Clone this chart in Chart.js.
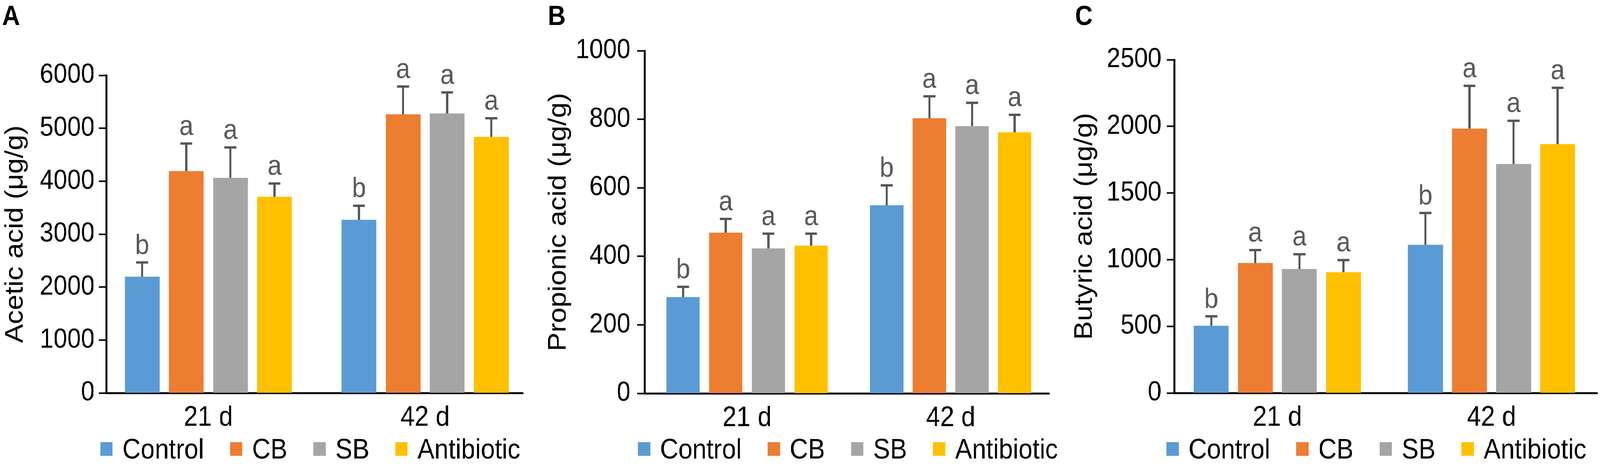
<!DOCTYPE html>
<html>
<head>
<meta charset="utf-8">
<script src="https://cdn.jsdelivr.net/npm/chart.js@4.4.1/dist/chart.umd.min.js"></script>
<style>
  html, body { margin: 0; padding: 0; background: #fff; overflow: hidden; }
  #figure { width: 4550px; height: 1189px; position: relative; transform-origin: 0 0; }
  canvas { position: absolute; top: 0; }
</style>
</head>
<body>
<div id="figure">
  <canvas id="chartA" width="1517" height="1189" style="left:0px"></canvas>
  <canvas id="chartB" width="1516" height="1189" style="left:1517px"></canvas>
  <canvas id="chartC" width="1517" height="1189" style="left:3033px"></canvas>
</div>
<script>
// ========== DATA ==========
const categories = ['21 d', '42 d'];
const groups = ['Control', 'CB', 'SB', 'Antibiotic'];

// means per group, [21 d, 42 d]
const aceticMeans = [[2196, 3270], [4191, 5263], [4063, 5280], [3705, 4838]];
const aceticErrors = [[269, 267], [520, 526], [575, 397], [252, 352]];

const propionicMeans = [[281, 549], [469, 803], [423, 780], [431, 762]];
const propionicErrors = [[30, 58], [40, 64], [43, 68], [35, 51]];

const butyricMeans = [[504, 1112], [975, 1983], [930, 1718], [906, 1867]];
const butyricErrors = [[71, 238], [97, 321], [111, 324], [91, 422]];

// significance letters per group, [21 d, 42 d]
const sigLetters = [['b', 'b'], ['a', 'a'], ['a', 'a'], ['a', 'a']];

const aceticTicks = { max: 6000, step: 1000 };
const propionicTicks = { max: 1000, step: 200 };
const butyricTicks = { max: 2500, step: 500 };

// ========== STYLE / LAYOUT ==========
const groupColors = ['#5B9BD5', '#ED7D31', '#A5A5A5', '#FFC000'];
const FONT = "'Liberation Sans', Arial, sans-serif";
const H = 1189;

// stretch the 4550x1189 figure over the whole viewport
const sx = window.innerWidth / 4550;
const sy = window.innerHeight / 1189;
document.getElementById('figure').style.transform = 'scale(' + sx + ',' + sy + ')';

Chart.defaults.font.family = FONT;
Chart.defaults.color = '#000';

// error bars + letters above them
const errorBarPlugin = {
    id: 'errorBars',
    afterDatasetsDraw(chart) {
        const ctx = chart.ctx;
        const yScale = chart.scales.y;
        ctx.save();
        chart.data.datasets.forEach((ds, i) => {
            const meta = chart.getDatasetMeta(i);
            meta.data.forEach((bar, j) => {
                const top = yScale.getPixelForValue(ds.data[j].y + ds.errors[j]);
                ctx.strokeStyle = '#555555';
                ctx.lineWidth = 6;
                ctx.beginPath();
                ctx.moveTo(bar.x, bar.y);
                ctx.lineTo(bar.x, top);
                ctx.moveTo(bar.x - 17, top);
                ctx.lineTo(bar.x + 17, top);
                ctx.stroke();

                ctx.fillStyle = '#595959';
                ctx.font = '72px ' + FONT;
                ctx.textAlign = 'center';
                ctx.textBaseline = 'alphabetic';
                ctx.fillText(ds.letters[j], bar.x, top - 22);
            });
        });
        ctx.restore();
    }
};

// panel letter + legend row
const decorPlugin = {
    id: 'decor',
    afterDraw(chart, args, opts) {
        const ctx = chart.ctx;
        ctx.save();
        ctx.fillStyle = '#000';
        ctx.font = 'bold 70px ' + FONT;
        ctx.textAlign = 'left';
        ctx.textBaseline = 'alphabetic';
        ctx.fillText(opts.letter, opts.letterX, 64);

        ctx.font = '72px ' + FONT;
        let x = opts.legendX;
        chart.data.datasets.forEach(ds => {
            ctx.fillStyle = ds.backgroundColor;
            ctx.fillRect(x, 1133, 35, 35);
            x += 35 + 28;
            ctx.fillStyle = '#000';
            ctx.fillText(ds.label, x, 1175);
            x += ctx.measureText(ds.label).width + 74;
        });
        ctx.restore();
    }
};

function makePanel(id, L, title, means, errors, yTicks, letter) {
    const spacing = L.c1 - L.c0;
    const xMin = -(L.c0 - L.axisX) / spacing;
    const xMax = 1 + (L.axisEnd - L.c1) / spacing;

    new Chart(document.getElementById(id), {
        type: 'bar',
        data: {
            datasets: groups.map((g, i) => ({
                label: g,
                data: means[i].map((v, k) => ({ x: k, y: v })),
                errors: errors[i],
                letters: sigLetters[i],
                backgroundColor: groupColors[i],
                borderWidth: 0,
                categoryPercentage: L.catPct,
                barPercentage: L.barPct
            }))
        },
        options: {
            responsive: false,
            animation: false,
            devicePixelRatio: window.devicePixelRatio || 1,
            layout: { padding: { left: 0, top: L.top, right: L.width - (L.axisEnd - L.left), bottom: 0 } },
            plugins: {
                legend: { display: false },
                tooltip: { enabled: false },
                decor: { letter: letter, letterX: L.letterX - L.left, legendX: L.legendX - L.left }
            },
            scales: {
                x: {
                    type: 'linear',
                    offset: false,
                    min: xMin,
                    max: xMax,
                    afterBuildTicks: s => { s.ticks = categories.map((c, k) => ({ value: k })); },
                    ticks: {
                        callback: v => categories[v],
                        color: '#000',
                        font: { size: 72 },
                        padding: 21,
                        maxRotation: 0,
                        autoSkip: false
                    },
                    grid: { display: false, drawTicks: false },
                    border: { display: true, color: '#000', width: 5 },
                    afterFit: s => { s.height = H - L.bottom; }
                },
                y: {
                    min: 0,
                    max: yTicks.max,
                    ticks: {
                        stepSize: yTicks.step,
                        callback: v => String(v),
                        color: '#000',
                        font: { size: 70 },
                        padding: L.tickPad
                    },
                    grid: { display: true, drawOnChartArea: false, drawTicks: true, tickLength: 21, tickWidth: 4, tickColor: '#000' },
                    border: { display: true, color: '#000', width: 5 },
                    title: {
                        display: true,
                        text: title,
                        color: '#000',
                        font: { size: 72, lineHeight: 1 },
                        padding: { top: L.titleX - L.left - 36, bottom: 0 }
                    },
                    afterFit: s => { s.width = L.axisX - L.left; }
                }
            }
        },
        plugins: [errorBarPlugin, decorPlugin]
    });
}

makePanel('chartA',
    { left: 0, width: 1517, axisX: 302, axisEnd: 1488, top: 193, bottom: 1007, c0: 592.5, c1: 1209,
      catPct: 0.814, barPct: 0.789, tickPad: 12, titleX: 44, letterX: 6, legendX: 285 },
    'Acetic acid (μg/g)', aceticMeans, aceticErrors, aceticTicks, 'A');

makePanel('chartB',
    { left: 1517, width: 1516, axisX: 1833, axisEnd: 2984, top: 130, bottom: 1008, c0: 2124.5, c1: 2703.5,
      catPct: 0.838, barPct: 0.783, tickPad: 19, titleX: 1589, letterX: 1558, legendX: 1814 },
    'Propionic acid (μg/g)', propionicMeans, propionicErrors, propionicTicks, 'B');

makePanel('chartC',
    { left: 3033, width: 1517, axisX: 3339, axisEnd: 4542, top: 153, bottom: 1007, c0: 3632.5, c1: 4241.5,
      catPct: 0.823, barPct: 0.792, tickPad: 15, titleX: 3085, letterX: 3057, legendX: 3317 },
    'Butyric acid (μg/g)', butyricMeans, butyricErrors, butyricTicks, 'C');
</script>
</body>
</html>
